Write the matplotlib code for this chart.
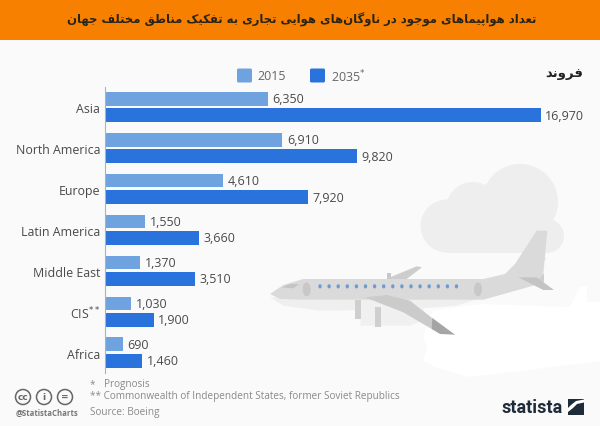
import matplotlib
matplotlib.use("Agg")
import matplotlib.pyplot as plt
from matplotlib.patches import Polygon, Circle, Ellipse, Rectangle, FancyBboxPatch

categories = ["Asia", "North America", "Europe", "Latin America", "Middle East", "CIS$^{**}$", "Africa"]
values_2015 = [6350, 6910, 4610, 1550, 1370, 1030, 690]
values_2035 = [16970, 9820, 7920, 3660, 3510, 1900, 1460]
series_names = ["2015", "2035$^{*}$"]
title_fa = "تعداد هواپیماهای موجود در ناوگان\u200cهای هوایی تجاری به تفکیک مناطق مختلف جهان"
unit_fa = "فروند"
notes = ["*", "Prognosis", "** Commonwealth of Independent States, former Soviet Republics", "Source: Boeing"]

BG = "#FAFAFA"; ORANGE = "#F78000"; C15 = "#6FA3E0"; C35 = "#2A72DC"
TXT = "#4A4A4A"; NOTE = "#8A8A8A"

# Persian shaping: (isolated, final, initial, medial) presentation forms
FORMS = {
    "ا": (0xFE8D, 0xFE8E), "د": (0xFEA9, 0xFEAA), "ر": (0xFEAD, 0xFEAE), "و": (0xFEED, 0xFEEE),
    "ب": (0xFE8F, 0xFE90, 0xFE91, 0xFE92), "پ": (0xFB56, 0xFB57, 0xFB58, 0xFB59),
    "ت": (0xFE95, 0xFE96, 0xFE97, 0xFE98), "ج": (0xFE9D, 0xFE9E, 0xFE9F, 0xFEA0),
    "خ": (0xFEA5, 0xFEA6, 0xFEA7, 0xFEA8), "ع": (0xFEC9, 0xFECA, 0xFECB, 0xFECC),
    "ف": (0xFED1, 0xFED2, 0xFED3, 0xFED4), "ق": (0xFED5, 0xFED6, 0xFED7, 0xFED8),
    "ک": (0xFB8E, 0xFB8F, 0xFB90, 0xFB91), "گ": (0xFB92, 0xFB93, 0xFB94, 0xFB95),
    "ل": (0xFEDD, 0xFEDE, 0xFEDF, 0xFEE0), "م": (0xFEE1, 0xFEE2, 0xFEE3, 0xFEE4),
    "ن": (0xFEE5, 0xFEE6, 0xFEE7, 0xFEE8), "ه": (0xFEE9, 0xFEEA, 0xFEEB, 0xFEEC),
    "ی": (0xFBFC, 0xFBFD, 0xFBFE, 0xFBFF), "ط": (0xFEC1, 0xFEC2, 0xFEC3, 0xFEC4),
}

def shape(s):
    out = []
    for i, ch in enumerate(s):
        if ch not in FORMS:
            if ch != "\u200c":
                out.append(ch)
            continue
        prev = s[i - 1] if i else ""
        nxt = s[i + 1] if i + 1 < len(s) else ""
        join_prev = prev in FORMS and len(FORMS[prev]) == 4
        join_next = nxt in FORMS and len(FORMS[ch]) == 4
        f = FORMS[ch]
        if join_prev and join_next:
            out.append(chr(f[3]))
        elif join_next:
            out.append(chr(f[2]))
        elif join_prev:
            out.append(chr(f[1]))
        else:
            out.append(chr(f[0]))
    return "".join(reversed(out))

W, H = 600, 427
fig = plt.figure(figsize=(W / 100, H / 100), dpi=100, facecolor=BG)

bg = fig.add_axes([0, 0, 1, 1]); bg.set_xlim(0, W); bg.set_ylim(H, 0); bg.axis("off")
bg.add_patch(Rectangle((0, 0), W, 41, fc=ORANGE, ec="none"))
title = bg.text(302, 20, shape(title_fa), ha="center", va="center", fontsize=10, fontweight="bold",
                family="DejaVu Sans", color="#2A2418")
# fit the title to its width in the reference
r = fig.canvas.get_renderer()
title.set_fontsize(10 * 470 / title.get_window_extent(r).width)
bg.text(564.5, 74, shape(unit_fa), ha="center", va="center", fontsize=9.5, fontweight="bold",
        family="DejaVu Sans", color="#222222")

# cloud
CLOUD = "#EEEEEE"
for cx, cy, rad in [(520, 203, 38), (473, 210, 27), (447, 227, 26.5), (547, 237, 17)]:
    bg.add_patch(Circle((cx, cy), rad, fc=CLOUD, ec="none"))
bg.add_patch(Rectangle((447, 212), 100, 41.5, fc=CLOUD, ec="none"))

def z(pts):
    return [(270 + x / 3, 170 + y / 3) for x, y in pts]

bg.add_patch(Polygon(z([(0, 385), (640, 385), (560, 410), (400, 422), (150, 425), (40, 410)]), fc="#EFEFEF", ec="none"))
bg.add_patch(Polygon(z([(272, 392), (450, 392), (470, 450), (420, 470), (272, 470)]), fc="#F0F0F0", ec="none"))
bg.add_patch(Rectangle((270 + 256 / 3, 170 + 392 / 3), 16 / 3, 58 / 3, fc="#CFCFCF", ec="none"))
bg.add_patch(Rectangle((270 + 316 / 3, 170 + 415 / 3), 16 / 3, 58 / 3, fc="#CFCFCF", ec="none"))
bg.add_patch(Polygon(z([(352, 312), (364, 312), (364, 330), (352, 330)]), fc="#C8C8C8", ec="none"))
bg.add_patch(Polygon(z([(360, 325), (440, 292), (456, 295), (410, 330), (360, 330)]), fc="#CDCDCD", ec="none"))
bg.add_patch(Polygon(z([(800, 270), (828, 268), (805, 290)]), fc="#CFCFCF", ec="none"))
bg.add_patch(Polygon(z([(800, 315), (822, 315), (822, 340), (800, 340)]), fc="#CFCFCF", ec="none"))
bg.add_patch(Polygon(z([(0, 375), (40, 348), (100, 330), (640, 330), (705, 315), (735, 285), (800, 185),
                        (832, 185), (820, 315), (790, 350), (640, 392), (100, 392), (30, 390)]),
                     fc="#DADADA", ec="none"))
bg.add_patch(Polygon(z([(35, 355), (60, 345), (88, 345), (70, 358)]), fc="#C4C4C4", ec="none"))
bg.add_patch(Polygon(z([(745, 325), (800, 325), (852, 363), (820, 363)]), fc="#C4C4C4", ec="none"))
for zx in (110, 624):
    bg.add_patch(Ellipse((270 + zx / 3, 170 + 361 / 3), 8, 14, fc="#C8C8C8", ec="none"))
for i in range(16):
    bg.add_patch(Ellipse((270 + (150 + i * 27.3) / 3, 170 + 352 / 3), 3.4, 4.2, fc="#6F9CD0", ec="none"))

# white patch below the aircraft
bg.add_patch(Polygon([(433, 311), (483, 305), (570, 308), (580, 288), (587, 288), (587, 303), (600, 303),
                      (600, 362), (520, 372), (470, 378), (440, 370), (423, 362), (427, 350), (423, 337)],
                     fc="#FFFFFF", ec="none", zorder=1.5))
bg.add_patch(Polygon(z([(285, 385), (350, 378), (420, 395), (490, 450), (485, 480), (400, 430)]), fc="#CBCBCB", ec="none", zorder=2))
bg.add_patch(Polygon(z([(487, 447), (555, 497), (510, 495), (485, 480)]), fc="#A5A5A5", ec="none", zorder=2))

# legend
for x0, c, tx, lab in [(237, C15, 257, series_names[0]), (310, C35, 331, series_names[1])]:
    bg.add_patch(FancyBboxPatch((x0, 69.5), 15, 14, boxstyle="round,pad=0,rounding_size=1.5", fc=c, ec="none"))
    bg.text(tx, 76.5, lab, ha="left", va="center", fontsize=9, family="Open Sans", color="#666666")

# footer
bg.text(90, 385, notes[0], ha="left", va="center", fontsize=7.2, family="Open Sans", color=NOTE)
bg.text(104, 385, notes[1], ha="left", va="center", fontsize=7.2, family="Open Sans", color=NOTE)
bg.text(90, 397, notes[2], ha="left", va="center", fontsize=7.2, family="Open Sans", color=NOTE)
bg.text(90, 413, notes[3], ha="left", va="center", fontsize=7.2, family="Open Sans", color=NOTE)
for cx, s in [(23, "cc"), (44, "i"), (65, "=")]:
    bg.add_patch(Circle((cx, 398), 7.5, fc="none", ec="#666666", lw=1.1))
    bg.text(cx, 397.5, s, ha="center", va="center", fontsize=6.5, fontweight="bold", family="DejaVu Sans", color="#666666")
bg.text(47, 413, "@StatistaCharts", ha="center", va="center", fontsize=5.6, fontweight="bold",
        family="Open Sans", color="#777777")
bg.text(563, 408, "statista", ha="right", va="center", fontsize=13, fontweight="bold",
        family="Roboto", color="#1E2B38")
bg.add_patch(Rectangle((568, 400), 16, 16, fc="#1E2B38", ec="none"))
bg.add_patch(Polygon([(568, 413), (573, 409), (577, 405), (584, 403.5), (584, 400.5), (576, 402), (571, 406), (568, 409)],
                     fc="#FFFFFF", ec="none"))

# chart
left, right, top, bottom = 105, 600, 87.5, 374
ax = fig.add_axes([left / W, 1 - bottom / H, (right - left) / W, (bottom - top) / H])
ax.patch.set_alpha(0)
ax.set_xlim(0, (right - left) / 0.02567)
ax.set_ylim(len(categories) - 0.5, -0.5)
pos = list(range(len(categories)))
bh, off = 0.335, 0.2
ax.barh([p - off for p in pos], values_2015, height=bh, color=C15)
ax.barh([p + off for p in pos], values_2035, height=bh, color=C35)
for p, a, b in zip(pos, values_2015, values_2035):
    ax.text(a + 180, p - off, f"{a:,}", va="center", ha="left", fontsize=9, family="Open Sans", color=TXT)
    ax.text(b + 180, p + off, f"{b:,}", va="center", ha="left", fontsize=9, family="Open Sans", color=TXT)
ax.set_yticks(pos, categories, family="Open Sans", fontsize=8.9, color=TXT)
ax.tick_params(axis="y", length=0, pad=3.5)
ax.xaxis.set_visible(False)
for s in ("top", "right", "bottom"):
    ax.spines[s].set_visible(False)
ax.spines["left"].set_color("#AAB2BA")
ax.spines["left"].set_linewidth(0.8)

fig.savefig("out.png", dpi=100, facecolor=BG)
